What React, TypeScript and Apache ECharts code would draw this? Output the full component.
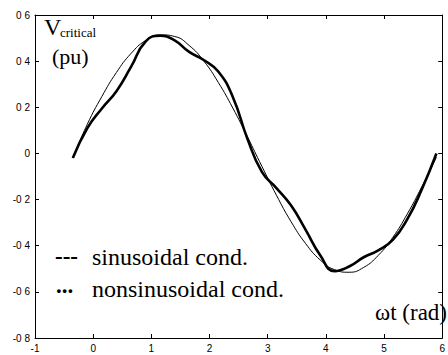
import React, { useEffect, useRef } from "react";
import * as echarts from "echarts";

const wt = [-0.35, -0.1, 0.15, 0.4, 0.65, 0.9, 1.15, 1.4, 1.65, 1.9, 2.15, 2.4, 2.65, 2.9, 3.15, 3.4, 3.65, 3.9, 4.15, 4.4, 4.65, 4.9, 5.15, 5.4, 5.65, 5.9];
const sinusoidal = [-0.02, 0.127, 0.247, 0.351, 0.433, 0.489, 0.514, 0.507, 0.468, 0.401, 0.308, 0.197, 0.073, -0.056, -0.181, -0.295, -0.39, -0.461, -0.504, -0.515, -0.494, -0.442, -0.364, -0.262, -0.144, -0.017];
const nonsinusoidal = [-0.02, 0.11, 0.195, 0.27, 0.375, 0.485, 0.51, 0.49, 0.44, 0.405, 0.355, 0.245, 0.065, -0.08, -0.15, -0.225, -0.33, -0.44, -0.51, -0.49, -0.45, -0.42, -0.375, -0.285, -0.155, 0.0];
const yTicks = { min: -0.8, max: 0.6, interval: 0.2 };
const xTicks = { min: -1, max: 6, interval: 1 };

const serif = "'Liberation Serif', 'DejaVu Serif', serif";
const sans = "'Liberation Sans', Arial, sans-serif";

export default function App() {
  const ref = useRef<HTMLDivElement>(null);
  useEffect(() => {
    if (!ref.current) return;
    const chart = echarts.init(ref.current, undefined, { renderer: "svg" });
    const axisLine = { show: true, onZero: false, lineStyle: { color: "#000", width: 1 } };
    const axisTick = { show: true, inside: true, length: 4, lineStyle: { color: "#000" } };
    const tickLabel = { color: "#000", fontSize: 10, fontFamily: sans };
    const fmtY = (v: number) => (Math.abs(v) < 1e-9 ? "0" : v.toFixed(1).replace(".", " "));
    chart.setOption({
      animation: false,
      backgroundColor: "#fff",
      grid: { left: 35, right: -2, top: 15, bottom: 17 },
      xAxis: [
        {
          type: "value", min: xTicks.min, max: xTicks.max, interval: xTicks.interval,
          position: "bottom", axisLine, axisTick, splitLine: { show: false },
          axisLabel: { ...tickLabel, margin: 5 },
        },
        {
          type: "value", min: xTicks.min, max: xTicks.max, interval: xTicks.interval,
          position: "top", axisLine, axisTick, splitLine: { show: false },
          axisLabel: { show: false },
        },
      ],
      yAxis: [
        {
          type: "value", min: yTicks.min, max: yTicks.max, interval: yTicks.interval,
          position: "left", axisLine, axisTick, splitLine: { show: false },
          axisLabel: { ...tickLabel, margin: 5, formatter: fmtY },
        },
        {
          type: "value", min: yTicks.min, max: yTicks.max, interval: yTicks.interval,
          position: "right", axisLine, axisTick, splitLine: { show: false },
          axisLabel: { show: false },
        },
      ],
      series: [
        {
          type: "line", name: "sinusoidal", smooth: true, showSymbol: false,
          data: wt.map((x, i) => [x, sinusoidal[i]]),
          lineStyle: { color: "#000", width: 1 }, z: 2,
        },
        {
          type: "line", name: "nonsinusoidal", smooth: true, showSymbol: false,
          data: wt.map((x, i) => [x, nonsinusoidal[i]]),
          lineStyle: { color: "#000", width: 2.6 }, z: 3,
        },
      ],
      graphic: [
        { type: "text", x: 44, y: 26.5, style: { text: "V", font: `24px ${serif}`, fill: "#000", textVerticalAlign: "middle" } },
        { type: "text", x: 60, y: 32.5, style: { text: "critical", font: `13px ${serif}`, fill: "#000", textVerticalAlign: "middle" } },
        { type: "text", x: 52, y: 56.5, style: { text: "(pu)", font: `22px ${serif}`, fill: "#000", textVerticalAlign: "middle" } },
        { type: "text", x: 447, y: 312, style: { text: "ωt (rad)", font: `23px ${serif}`, fill: "#000", textAlign: "right", textVerticalAlign: "middle" } },
        { type: "text", x: 55, y: 256, style: { text: "---", font: `bold 23px ${serif}`, fill: "#000", textVerticalAlign: "middle" } },
        { type: "text", x: 92, y: 257, style: { text: "sinusoidal cond.", font: `24px ${serif}`, fill: "#000", textVerticalAlign: "middle" } },
        { type: "text", x: 56, y: 285, style: { text: "...", font: `bold 23px ${serif}`, fill: "#000", textVerticalAlign: "middle" } },
        { type: "text", x: 92, y: 289, style: { text: "nonsinusoidal cond.", font: `24px ${serif}`, fill: "#000", textVerticalAlign: "middle" } },
      ],
    });
    return () => chart.dispose();
  }, []);
  return (
    <div
      ref={ref}
      style={{ position: "absolute", left: 0, top: 0, width: 448, height: 355, overflow: "hidden" }}
    />
  );
}
